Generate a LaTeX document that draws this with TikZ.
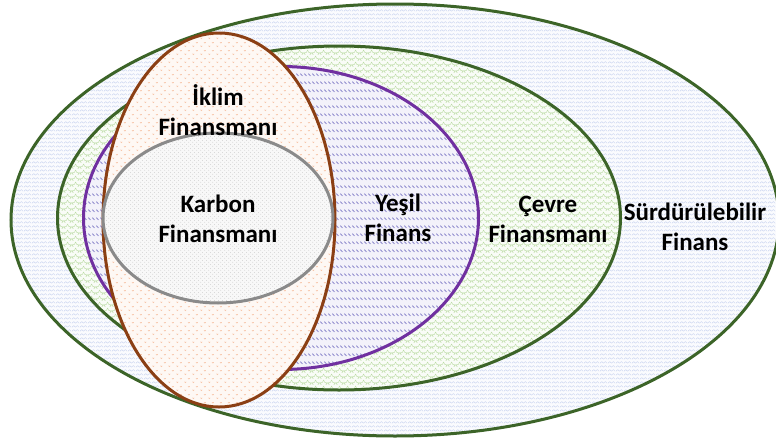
\documentclass[tikz,border=0pt]{standalone}
\usepackage{fontspec}
\setmainfont{Carlito}
\usetikzlibrary{shapes.geometric,patterns.meta}

\definecolor{ringgreen}{HTML}{3C6428}
\definecolor{ringpurple}{HTML}{7030A0}
\definecolor{ringbrown}{HTML}{8B3F14}
\definecolor{ringgray}{HTML}{8A8A8A}
\definecolor{fillsust}{HTML}{FAFBFE}
\definecolor{fillenv}{HTML}{F9FCF7}
\definecolor{fillgreen}{HTML}{F3F2FA}
\definecolor{fillclimate}{HTML}{FEF8F4}
\definecolor{fillcarbon}{HTML}{F8F8F8}
\definecolor{patsust}{HTML}{CAD4EF}
\definecolor{patenv}{HTML}{BCDCA6}
\definecolor{patgreen}{HTML}{7F7AC6}
\definecolor{patclimate}{HTML}{F6C0A2}
\definecolor{patcarbon}{HTML}{C2C2C2}

% fine textures for the fields
\tikzdeclarepattern{
  name=zigzagrows, type=uncolored,
  bounding box={(0pt,0pt) and (8pt,4pt)},
  tile size={(8pt,4pt)},
  code={\draw[line width=0.5pt] (0pt,1pt) -- (2pt,3pt) -- (4pt,1pt) -- (6pt,3pt) -- (8pt,1pt);}
}
\tikzdeclarepattern{
  name=scales, type=uncolored,
  bounding box={(0pt,0pt) and (8pt,6pt)},
  tile size={(8pt,6pt)},
  code={\draw[line width=0.5pt] (0pt,3pt) arc[start angle=180, end angle=360, radius=4pt]
        (-4pt,6pt) arc[start angle=180, end angle=360, radius=4pt]
        (4pt,6pt) arc[start angle=180, end angle=360, radius=4pt];}
}
\tikzdeclarepattern{
  name=dashrows, type=uncolored,
  bounding box={(0pt,0pt) and (4pt,8pt)},
  tile size={(4pt,8pt)},
  code={\draw[line width=0.9pt] (0.5pt,6pt) -- (3pt,3.5pt);}
}
\tikzdeclarepattern{
  name=chevrons, type=uncolored,
  bounding box={(0pt,0pt) and (8pt,8pt)},
  tile size={(8pt,8pt)},
  code={\draw[line width=0.6pt] (0.5pt,2.5pt) -- (1.5pt,1.5pt) -- (2.5pt,2.5pt)
        (4.5pt,6.5pt) -- (5.5pt,5.5pt) -- (6.5pt,6.5pt);}
}
\tikzdeclarepattern{
  name=finedots, type=uncolored,
  bounding box={(0pt,0pt) and (4pt,4pt)},
  tile size={(4pt,4pt)},
  code={\fill (1pt,1pt) circle[radius=0.45pt] (3pt,3pt) circle[radius=0.45pt];}
}

\tikzset{
  ring/.style={ellipse, draw, line width=3pt, inner sep=0pt},
  lbl/.style={font=\bfseries\fontsize{25}{30}\selectfont, text=black, align=center, inner sep=0pt}
}

\begin{document}
\begin{tikzpicture}[x=1pt,y=-1pt]
  \useasboundingbox (0,0) rectangle (776,439);
  \clip (0,0) rectangle (776,439);

  % nested finance fields
  \node[ring, draw=ringgreen, preaction={fill=fillsust}, pattern={zigzagrows}, pattern color=patsust,
        minimum width=768pt, minimum height=432pt] (sust) at (395,220) {};
  \node[ring, draw=ringgreen, preaction={fill=fillenv}, pattern={scales}, pattern color=patenv,
        minimum width=563pt, minimum height=344pt] (env) at (339,218) {};
  \node[ring, draw=ringpurple, preaction={fill=fillgreen}, pattern={dashrows}, pattern color=patgreen,
        minimum width=395pt, minimum height=303pt] (green) at (281,218) {};
  \node[ring, draw=ringbrown, preaction={fill=fillclimate}, pattern={chevrons}, pattern color=patclimate,
        minimum width=232pt, minimum height=374pt] (climate) at (219,220) {};
  \node[ring, draw=ringgray, preaction={fill=fillcarbon}, pattern={finedots}, pattern color=patcarbon,
        minimum width=230pt, minimum height=170pt] (carbon) at (218,218) {};

  % labels
  \node[lbl] (tclimate) at (218,110) {İklim\\Finansmanı};
  \node[lbl] (tcarbon) at (218,219) {Karbon\\Finansmanı};
  \node[lbl] (tgreen) at (398,218) {Yeşil\\Finans};
  \node[lbl] (tenv) at (548,219) {Çevre\\Finansmanı};
  \node[lbl] (tsust) at (695,227) {Sürdürülebilir\\Finans};
\end{tikzpicture}
\end{document}
